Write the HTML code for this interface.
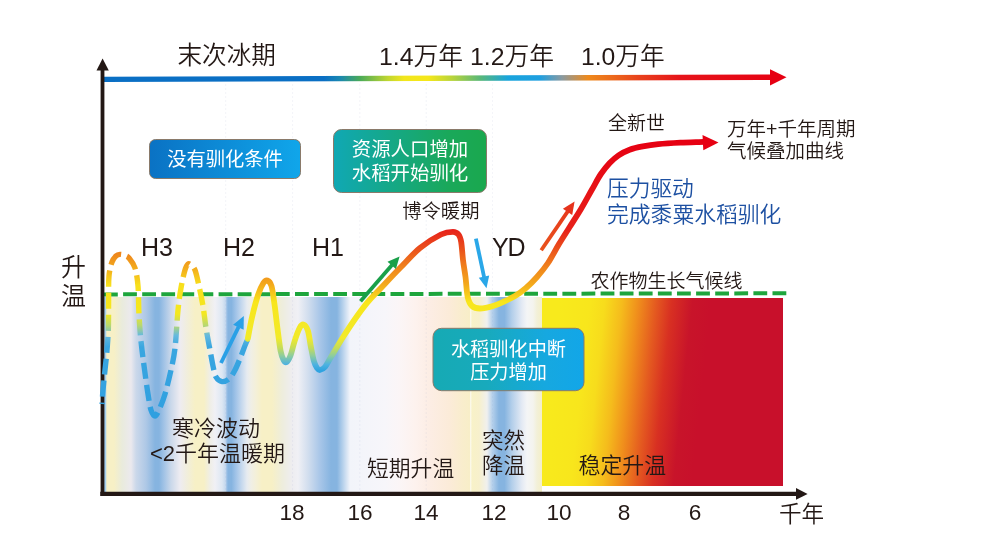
<!DOCTYPE html>
<html lang="zh-CN">
<head>
<meta charset="utf-8">
<title>末次冰期以来气候变化与水稻驯化</title>
<style>
html,body{margin:0;padding:0;background:#fff;}
body{width:1000px;height:544px;overflow:hidden;}
svg{display:block;}
text{font-family:"Liberation Sans","Noto Sans CJK SC",sans-serif;fill:#231815;}
.w{fill:#fff;font-weight:400;}
</style>
</head>
<body>
<svg width="1000" height="544" viewBox="0 0 1000 544">
<defs>
  <!-- top time arrow gradient -->
  <linearGradient id="gTop" gradientUnits="userSpaceOnUse" x1="104" y1="0" x2="785" y2="0">
    <stop offset="0.0000" stop-color="#0a6fc4"/>
    <stop offset="0.3231" stop-color="#0a6fc4"/>
    <stop offset="0.3465" stop-color="#1a88b0"/>
    <stop offset="0.3759" stop-color="#4aaa58"/>
    <stop offset="0.4170" stop-color="#c0d630"/>
    <stop offset="0.4405" stop-color="#f2e61c"/>
    <stop offset="0.4758" stop-color="#f5e71a"/>
    <stop offset="0.5110" stop-color="#b8d43a"/>
    <stop offset="0.5521" stop-color="#5ab878"/>
    <stop offset="0.5932" stop-color="#18a4dc"/>
    <stop offset="0.6402" stop-color="#1f9fe0"/>
    <stop offset="0.6725" stop-color="#8a9aa0"/>
    <stop offset="0.7107" stop-color="#ee8a1c"/>
    <stop offset="0.7460" stop-color="#ec6a1c"/>
    <stop offset="0.7871" stop-color="#e8401c"/>
    <stop offset="0.8458" stop-color="#e6141a"/>
    <stop offset="1.0000" stop-color="#e60012"/>
  </linearGradient>
  <!-- curve gradient (by height) -->
  <linearGradient id="gCurve" gradientUnits="userSpaceOnUse" x1="0" y1="140" x2="0" y2="380">
    <stop offset="0" stop-color="#e60012"/>
    <stop offset="0.375" stop-color="#e7211a"/>
    <stop offset="0.45" stop-color="#ea4e1c"/>
    <stop offset="0.533" stop-color="#f0841c"/>
    <stop offset="0.60" stop-color="#f3a81c"/>
    <stop offset="0.645" stop-color="#f7cc1c"/>
    <stop offset="0.675" stop-color="#f8e61c"/>
    <stop offset="0.825" stop-color="#f2ea2a"/>
    <stop offset="0.867" stop-color="#c4dc5a"/>
    <stop offset="0.90" stop-color="#8ccca0"/>
    <stop offset="0.935" stop-color="#4eb2e0"/>
    <stop offset="0.96" stop-color="#30a4e0"/>
    <stop offset="1" stop-color="#2e9fe0"/>
  </linearGradient>
  <linearGradient id="gDash" gradientUnits="userSpaceOnUse" x1="0" y1="254" x2="0" y2="420">
    <stop offset="0" stop-color="#ee861c"/>
    <stop offset="0.096" stop-color="#f3b01c"/>
    <stop offset="0.187" stop-color="#f8e01c"/>
    <stop offset="0.36" stop-color="#f4e820"/>
    <stop offset="0.43" stop-color="#b8d870"/>
    <stop offset="0.49" stop-color="#66bade"/>
    <stop offset="0.56" stop-color="#3aa6e0"/>
    <stop offset="1" stop-color="#2e9fe0"/>
  </linearGradient>
  <!-- striped cold background -->
  <linearGradient id="gStripe" gradientUnits="userSpaceOnUse" x1="104" y1="0" x2="542" y2="0">
    <stop offset="0.0000" stop-color="#a6d0ee"/>
    <stop offset="0.0037" stop-color="#a6d0ee"/>
    <stop offset="0.0064" stop-color="#f7f0c6"/>
    <stop offset="0.0228" stop-color="#f7f0c6"/>
    <stop offset="0.0411" stop-color="#e9ebdc"/>
    <stop offset="0.0616" stop-color="#ebe9ee"/>
    <stop offset="0.0731" stop-color="#cbd8ea"/>
    <stop offset="0.0959" stop-color="#aec8e6"/>
    <stop offset="0.1164" stop-color="#86b4e0"/>
    <stop offset="0.1256" stop-color="#86b4e0"/>
    <stop offset="0.1370" stop-color="#a2c3e6"/>
    <stop offset="0.1530" stop-color="#cad8ea"/>
    <stop offset="0.1735" stop-color="#eeecf1"/>
    <stop offset="0.1895" stop-color="#f1eedc"/>
    <stop offset="0.2078" stop-color="#f7f0c6"/>
    <stop offset="0.2283" stop-color="#f7f0c6"/>
    <stop offset="0.2420" stop-color="#efeee6"/>
    <stop offset="0.2534" stop-color="#f0f0f5"/>
    <stop offset="0.2694" stop-color="#dde7f3"/>
    <stop offset="0.2774" stop-color="#c4d8ee"/>
    <stop offset="0.2808" stop-color="#94bce4"/>
    <stop offset="0.2842" stop-color="#86b4e0"/>
    <stop offset="0.2911" stop-color="#86b4e0"/>
    <stop offset="0.3014" stop-color="#a2c4e8"/>
    <stop offset="0.3151" stop-color="#c8daee"/>
    <stop offset="0.3265" stop-color="#e6ebf0"/>
    <stop offset="0.3356" stop-color="#f0efe6"/>
    <stop offset="0.3470" stop-color="#f4f0d8"/>
    <stop offset="0.3607" stop-color="#f7f0c6"/>
    <stop offset="0.3836" stop-color="#f7f0c6"/>
    <stop offset="0.4064" stop-color="#eeeddc"/>
    <stop offset="0.4292" stop-color="#eeedf0"/>
    <stop offset="0.4429" stop-color="#f0f0f5"/>
    <stop offset="0.4658" stop-color="#d2deee"/>
    <stop offset="0.4932" stop-color="#a8c6e8"/>
    <stop offset="0.5183" stop-color="#86b4e0"/>
    <stop offset="0.5320" stop-color="#86b4e0"/>
    <stop offset="0.5457" stop-color="#b8d2ec"/>
    <stop offset="0.5616" stop-color="#f2f4fa"/>
    <stop offset="0.6416" stop-color="#f7f6fa"/>
    <stop offset="0.6758" stop-color="#fbf5f6"/>
    <stop offset="0.7100" stop-color="#fdf2ee"/>
    <stop offset="0.7443" stop-color="#fcede4"/>
    <stop offset="0.7900" stop-color="#fbebd8"/>
    <stop offset="0.8174" stop-color="#f9edcd"/>
    <stop offset="0.8347" stop-color="#f8eec8"/>
    <stop offset="0.8358" stop-color="#fbf8e8"/>
    <stop offset="0.8384" stop-color="#fbf8e8"/>
    <stop offset="0.8395" stop-color="#f8f2c8"/>
    <stop offset="0.8562" stop-color="#f7f0cc"/>
    <stop offset="0.8744" stop-color="#f0f0ee"/>
    <stop offset="0.8858" stop-color="#b8d2ec"/>
    <stop offset="0.9018" stop-color="#86b4e0"/>
    <stop offset="0.9144" stop-color="#86b4e0"/>
    <stop offset="0.9315" stop-color="#b4cfea"/>
    <stop offset="0.9543" stop-color="#e4eaf4"/>
    <stop offset="0.9658" stop-color="#f4f5f6"/>
    <stop offset="0.9795" stop-color="#f4f4ee"/>
    <stop offset="0.9886" stop-color="#f2f0d8"/>
    <stop offset="1.0000" stop-color="#f4efc8"/>
  </linearGradient>
  <!-- warm background -->
  <linearGradient id="gWarm" gradientUnits="userSpaceOnUse" x1="550" y1="392" x2="700" y2="407.8">
    <stop offset="0" stop-color="#f8ea1c"/>
    <stop offset="0.20" stop-color="#f8e61c"/>
    <stop offset="0.30" stop-color="#f7dc1c"/>
    <stop offset="0.413" stop-color="#f5bc1c"/>
    <stop offset="0.516" stop-color="#f0901c"/>
    <stop offset="0.636" stop-color="#e45a20"/>
    <stop offset="0.74" stop-color="#d83022"/>
    <stop offset="0.877" stop-color="#c8142a"/>
    <stop offset="1" stop-color="#c8102b"/>
  </linearGradient>
  <linearGradient id="gBox1" x1="0" y1="0" x2="1" y2="0">
    <stop offset="0" stop-color="#0a72c4"/>
    <stop offset="1" stop-color="#10a6ea"/>
  </linearGradient>
  <linearGradient id="gBox2" x1="0" y1="0" x2="1" y2="0">
    <stop offset="0" stop-color="#10a8b4"/>
    <stop offset="0.75" stop-color="#1aa85a"/>
    <stop offset="1" stop-color="#1aa84e"/>
  </linearGradient>
  <linearGradient id="gBox3" x1="0" y1="0" x2="1" y2="0">
    <stop offset="0" stop-color="#16aab4"/>
    <stop offset="0.35" stop-color="#18aabc"/>
    <stop offset="0.75" stop-color="#16a8e0"/>
    <stop offset="1" stop-color="#12a6e8"/>
  </linearGradient>
  <linearGradient id="gArrO" gradientUnits="userSpaceOnUse" x1="541" y1="250" x2="574" y2="200">
    <stop offset="0" stop-color="#e9531c"/>
    <stop offset="1" stop-color="#e6331c"/>
  </linearGradient>
</defs>

<!-- backgrounds -->
<rect id="stripe" x="104" y="297" width="438" height="195" fill="url(#gStripe)"/>
<rect x="542" y="298" width="241" height="188" fill="url(#gWarm)"/>

<!-- faint guide lines -->
<g stroke="#9aa4c4" stroke-width="0.6" stroke-dasharray="2 2" opacity="0.2">
<line x1="225.7" y1="84" x2="225.7" y2="490"/><line x1="292.6" y1="84" x2="292.6" y2="490"/><line x1="359.8" y1="84" x2="359.8" y2="490"/><line x1="426.2" y1="84" x2="426.2" y2="490"/><line x1="492.6" y1="84" x2="492.6" y2="490"/>
</g>

<!-- green dashed line -->
<line x1="104" y1="294.4" x2="786.3" y2="293.3" stroke="#1ea53c" stroke-width="4" stroke-dasharray="13.8 5.3"/>

<!-- top time arrow -->
<line x1="104" y1="79.4" x2="772" y2="77.2" stroke="url(#gTop)" stroke-width="5.4"/>
<polygon points="770,69.2 786.5,77.3 770,85.4" fill="#e60012"/>

<!-- axes -->
<line x1="102.5" y1="68" x2="102.5" y2="495.900" stroke="#231815" stroke-width="3.8"/>
<polygon points="102.6,58.5 96.500,70.500 108.800,70.500" fill="#231815"/>
<line x1="100.3" y1="493.800" x2="798" y2="493.800" stroke="#231815" stroke-width="4.200"/>
<polygon points="807.600,493.900 796,488.100 796,499.700" fill="#231815"/>

<!-- curve -->
<path id="dash" stroke="url(#gDash)" d="M102.0,404.0 C102.2,401.7 102.5,395.7 103.0,390.0 C103.5,384.3 104.3,376.7 105.0,370.0 C105.7,363.3 106.5,356.7 107.0,350.0 C107.5,343.3 108.0,338.3 108.3,330.0 C108.6,321.7 108.5,309.0 108.6,300.0 C108.7,291.0 108.4,282.3 109.0,276.0 C109.6,269.7 110.8,265.3 112.0,262.0 C113.2,258.7 114.7,257.3 116.0,256.0 C117.3,254.7 118.5,254.5 120.0,254.4 C121.5,254.3 123.5,254.9 125.0,255.5 C126.5,256.1 127.3,255.9 129.0,258.0 C130.7,260.1 133.5,263.3 135.0,268.0 C136.5,272.7 137.4,279.0 138.0,286.0 C138.6,293.0 138.5,302.7 138.8,310.0 C139.1,317.3 139.5,323.3 140.0,330.0 C140.5,336.7 141.2,343.3 142.0,350.0 C142.8,356.7 143.6,362.7 144.6,370.0 C145.6,377.3 146.9,387.3 148.0,394.0 C149.1,400.7 149.8,406.3 151.0,410.0 C152.2,413.7 153.7,416.0 155.0,416.0 C156.3,416.0 157.3,413.7 159.0,410.0 C160.7,406.3 163.0,400.7 165.0,394.0 C167.0,387.3 169.3,377.7 171.0,370.0 C172.7,362.3 173.8,358.0 175.0,348.0 C176.2,338.0 177.0,320.0 178.0,310.0 C179.0,300.0 179.8,294.7 181.0,288.0 C182.2,281.3 183.8,274.0 185.0,270.0 C186.2,266.0 187.0,264.8 188.0,264.0 C189.0,263.2 189.8,264.0 191.0,265.0 C192.2,266.0 193.7,266.5 195.0,270.0 C196.3,273.5 197.7,280.0 199.0,286.0 C200.3,292.0 201.8,299.0 203.0,306.0 C204.2,313.0 204.8,320.7 206.0,328.0 C207.2,335.3 208.8,343.7 210.0,350.0 C211.2,356.3 212.0,361.5 213.0,366.0 C214.0,370.5 214.5,374.4 216.0,377.0 C217.5,379.6 219.8,381.3 222.0,381.6 C224.2,381.9 226.8,380.9 229.0,379.0 C231.2,377.1 233.0,373.8 235.0,370.0 C237.0,366.2 239.2,360.5 241.0,356.0 C242.8,351.5 244.8,345.8 246.0,343.0 C247.2,340.2 247.7,339.7 248.0,339.0" fill="none" stroke-width="5.4" stroke-dasharray="16 6" stroke-dashoffset="14.5"/>
<path id="solid" d="M247.8,338.8 C248.5,335.1 250.4,323.9 252.2,316.5 C253.9,309.1 256.4,299.9 258.3,294.3 C260.2,288.7 261.9,285.3 263.4,283.0 C264.9,280.7 266.0,280.0 267.4,280.5 C268.8,281.0 270.3,282.0 271.5,286.0 C272.7,290.0 273.5,297.3 274.5,304.4 C275.5,311.5 276.5,320.9 277.5,328.7 C278.5,336.5 279.6,345.8 280.6,351.0 C281.6,356.2 282.6,358.2 283.6,360.0 C284.6,361.8 285.4,362.8 286.6,362.0 C287.8,361.2 289.4,358.5 290.7,355.0 C292.0,351.5 293.2,345.4 294.7,340.8 C296.2,336.2 298.3,330.3 299.8,327.6 C301.3,324.9 302.5,324.1 303.8,324.6 C305.1,325.1 306.7,327.0 307.9,330.7 C309.1,334.4 309.9,341.8 310.9,346.9 C311.9,351.9 312.9,357.5 313.9,361.0 C314.9,364.5 316.0,366.5 317.0,368.0 C318.0,369.5 318.7,370.2 320.0,370.0 C321.3,369.8 323.2,369.2 325.0,367.0 C326.8,364.8 327.9,362.1 331.0,357.0 C334.1,351.9 339.2,343.1 343.3,336.7 C347.4,330.3 351.4,324.2 355.4,318.5 C359.4,312.8 363.4,307.3 367.5,302.4 C371.6,297.5 374.6,294.7 380.0,289.0 C385.4,283.3 393.3,274.8 400.0,268.0 C406.7,261.2 413.2,253.6 420.0,248.0 C426.8,242.4 435.5,237.2 441.0,234.5 C446.5,231.8 450.1,231.8 453.0,231.8 C455.9,231.8 457.1,232.8 458.5,234.5 C459.9,236.2 460.4,237.8 461.2,242.0 C461.9,246.2 462.3,254.2 463.0,260.0 C463.7,265.8 464.7,270.8 465.5,277.0 C466.3,283.2 466.6,292.2 467.7,297.0 C468.8,301.8 469.9,304.1 472.0,306.0 C474.1,307.9 476.5,308.5 480.0,308.5 C483.5,308.5 489.0,307.2 493.0,306.0 C497.0,304.8 500.3,303.2 504.0,301.5 C507.7,299.8 511.3,298.2 515.0,296.0 C518.7,293.8 522.3,291.2 526.0,288.0 C529.7,284.8 533.3,281.2 537.0,277.0 C540.7,272.8 544.3,268.5 548.0,263.0 C551.7,257.5 555.3,250.1 559.0,244.0 C562.7,237.9 566.3,232.3 570.0,226.5 C573.7,220.7 577.3,215.2 581.0,209.0 C584.7,202.8 588.7,195.3 592.0,189.5 C595.3,183.7 597.9,178.4 600.9,174.0 C603.9,169.6 606.8,166.1 609.7,163.0 C612.7,159.9 615.3,157.5 618.6,155.3 C621.9,153.1 625.6,151.2 629.6,149.7 C633.6,148.2 638.0,147.3 642.8,146.4 C647.6,145.5 652.0,144.8 658.3,144.2 C664.6,143.6 672.8,143.1 680.4,142.7 C688.0,142.3 700.1,142.0 704.0,141.8" fill="none" stroke="url(#gCurve)" stroke-width="5.8" stroke-linecap="round" stroke-linejoin="round"/>
<polygon points="718.500,142.5 702.500,135 703.300,150.200" fill="#e60012"/>

<!-- small arrows -->
<line x1="221.0" y1="363.0" x2="238.6" y2="326.8" stroke="#2aa0e6" stroke-width="3.8"/>
<polygon points="243.8,316.0 243.6,329.8 233.1,324.7" fill="#2aa0e6"/>
<line x1="360.5" y1="301.3" x2="392.0" y2="265.1" stroke="#1aa04a" stroke-width="3.8"/>
<polygon points="399.6,256.4 395.9,269.1 387.5,261.8" fill="#1aa04a"/>
<line x1="475.9" y1="238.6" x2="484.1" y2="277.1" stroke="#2aa7e8" stroke-width="3.8"/>
<polygon points="486.5,288.3 478.8,277.7 489.2,275.5" fill="#2aa7e8"/>
<line x1="541.2" y1="250.3" x2="567.8" y2="211.4" stroke="url(#gArrO)" stroke-width="3.8"/>
<polygon points="574.6,201.5 572.2,215.0 562.9,208.7" fill="#e6331c"/>

<!-- boxes -->
<rect x="149.500" y="139.500" width="151" height="39" rx="6" fill="url(#gBox1)" stroke="#8a7a6a" stroke-width="1"/>
<rect x="333.500" y="129.500" width="153" height="63" rx="8" fill="url(#gBox2)" stroke="#8a7a6a" stroke-width="1"/>
<rect x="433" y="328.300" width="151" height="62.400" rx="8.500" fill="url(#gBox3)" stroke="#8a7a6a" stroke-width="1"/>

<!-- texts -->
<text x="177.500" y="63.800" font-size="24.600" font-weight="350">末次冰期</text>
<text x="379" y="64.500" font-size="24.800" font-weight="350">1.4万年 1.2万年</text>
<text x="581" y="64.500" font-size="24.700" font-weight="350">1.0万年</text>

<text class="w" x="225" y="166" font-size="19.300" text-anchor="middle">没有驯化条件</text>
<text class="w" x="410" y="156" font-size="19.400" text-anchor="middle">资源人口增加</text>
<text class="w" x="410" y="180" font-size="19.400" text-anchor="middle">水稻开始驯化</text>
<text class="w" x="508.500" y="355.500" font-size="19.200" text-anchor="middle">水稻驯化中断</text>
<text class="w" x="508.500" y="379" font-size="19.200" text-anchor="middle">压力增加</text>

<text x="141" y="256" font-size="25" font-weight="350">H3</text>
<text x="223" y="256" font-size="25" font-weight="350">H2</text>
<text x="312" y="256" font-size="25" font-weight="350">H1</text>
<text x="492" y="255.500" font-size="25" font-weight="350" letter-spacing="-1.2">YD</text>

<text x="61" y="275.500" font-size="25" font-weight="350">升</text>
<text x="61" y="304.800" font-size="25" font-weight="350">温</text>

<text x="402.300" y="218.300" font-size="19.300" font-weight="350">博令暖期</text>
<text x="608" y="130" font-size="19" font-weight="350">全新世</text>
<text x="727" y="136" font-size="19.500" font-weight="350">万年+千年周期</text>
<text x="727" y="158" font-size="19.500" font-weight="350">气候叠加曲线</text>
<text x="607" y="196" font-size="21.700" font-weight="350" style="fill:#1d50a2">压力驱动</text>
<text x="607" y="221.500" font-size="21.800" font-weight="350" style="fill:#1d50a2">完成黍粟水稻驯化</text>
<text x="590.500" y="288" font-size="19" font-weight="350">农作物生长气候线</text>

<text x="172" y="436" font-size="22" font-weight="350">寒冷波动</text>
<text x="150" y="460.500" font-size="22" font-weight="350">&lt;2千年温暖期</text>
<text x="367" y="476" font-size="21.800" font-weight="350">短期升温</text>
<text x="482" y="447.500" font-size="21.500" font-weight="350">突然</text>
<text x="482" y="472.500" font-size="21.500" font-weight="350">降温</text>
<text x="578.500" y="473" font-size="21.900" font-weight="350">稳定升温</text>

<text x="292" y="520" font-size="22.600" font-weight="350" text-anchor="middle">18</text>
<text x="360" y="520" font-size="22.600" font-weight="350" text-anchor="middle">16</text>
<text x="426" y="520" font-size="22.600" font-weight="350" text-anchor="middle">14</text>
<text x="494" y="520" font-size="22.600" font-weight="350" text-anchor="middle">12</text>
<text x="559" y="520" font-size="22.600" font-weight="350" text-anchor="middle">10</text>
<text x="624" y="520" font-size="22.600" font-weight="350" text-anchor="middle">8</text>
<text x="695" y="520" font-size="22.600" font-weight="350" text-anchor="middle">6</text>
<text x="779" y="521.500" font-size="22.600" font-weight="350">千年</text>
</svg>
</body>
</html>
